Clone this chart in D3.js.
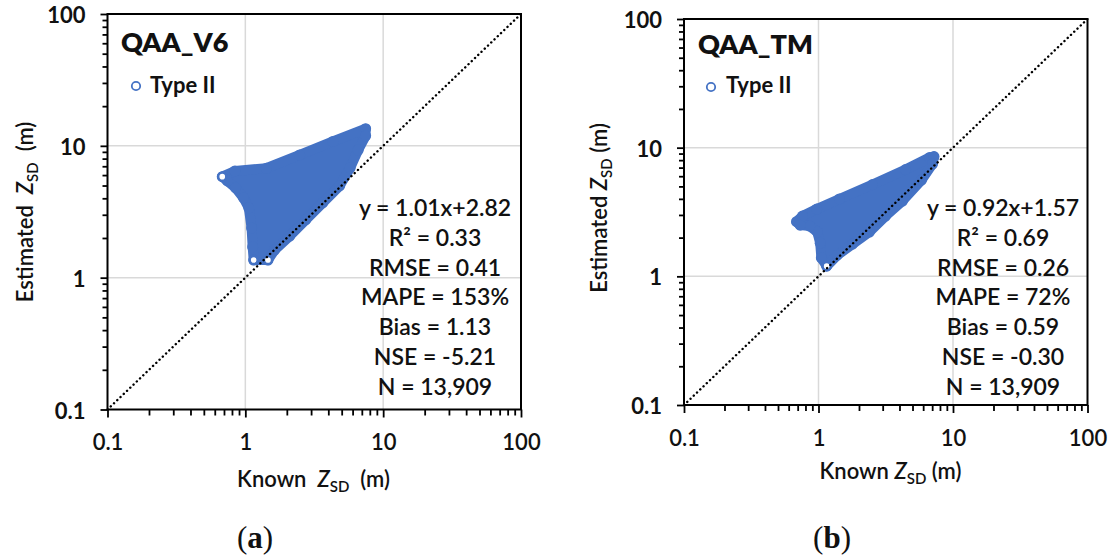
<!DOCTYPE html>
<html><head><meta charset="utf-8">
<script src="https://cdn.jsdelivr.net/npm/d3@7"></script>
<style>
body{margin:0;background:#fff}
svg{display:block}
text{font-family:Lato,'Open Sans',sans-serif;fill:#111;white-space:pre}
</style>
</head><body>
<svg id="chart" width="1113" height="558"></svg>
<script>
// ---------- data ----------
const tickValues = [0.1, 1, 10, 100];
const tickLabels = ["0.1", "1", "10", "100"];
const gridValues = [1, 10];
const panelTitles = ["QAA_V6", "QAA_TM"];
const legendLabel = "Type II";
const panelLetters = ["a", "b"];
const statsA = ["y = 1.01x+2.82", "R² = 0.33", "RMSE = 0.41", "MAPE = 153%", "Bias = 1.13", "NSE = -5.21", "N = 13,909"];
const statsB = ["y = 0.92x+1.57", "R² = 0.69", "RMSE = 0.26", "MAPE = 72%", "Bias = 0.59", "NSE = -0.30", "N = 13,909"];

// outline of the dense point cloud (known, estimated), panel a
const cloudAx = [0.68, 0.84, 1.42, 2.48, 4.32, 7.46, 7.46, 6.59, 5.76, 4.83, 3.64, 2.74, 2.10, 1.63, 1.46, 1.15, 1.13, 1.11, 1.06, 0.97, 0.85, 0.74];
const cloudAy = [5.84, 6.45, 6.76, 8.53, 10.8, 13.5, 11.9, 9.30, 6.80, 4.96, 3.69, 2.74, 2.07, 1.62, 1.36, 1.36, 1.71, 2.38, 3.38, 4.03, 4.80, 5.42];
// isolated points, panel a
const openAx = [0.68, 1.15, 1.46];
const openAy = [5.84, 1.36, 1.36];

// outline of the dense point cloud, panel b
const cloudBx = [0.686, 0.76, 0.97, 1.43, 2.52, 4.44, 6.69, 7.22, 7.04, 5.83, 4.21, 3.15, 2.39, 1.79, 1.38, 1.15, 1.05, 1.03, 0.98, 0.86, 0.73];
const cloudBy = [2.66, 2.94, 3.33, 3.99, 5.17, 6.76, 8.38, 8.53, 7.46, 5.60, 3.85, 2.94, 2.21, 1.78, 1.46, 1.20, 1.39, 1.81, 2.21, 2.46, 2.50];
const openBx = [1.15];
const openBy = [1.20];

// ---------- layout ----------
const BLUE = "#4472C4";
const panels = [
  {plot:{x0:107.5, x1:521, y0:14, y1:409.5}, title:panelTitles[0], stats:statsA,
   cx:cloudAx, cy:cloudAy, ox:openAx, oy:openAy,
   titlePos:[121, 52], legCircle:[136, 86], legText:[150, 93], statsX:435,
   xTitle:{x:313.5, y:487, sep:"  "}, yTitle:{x:33, y:212, sep:"  "}, letter:{x:255, y:548}},
  {plot:{x0:684, x1:1087.5, y0:19, y1:405}, title:panelTitles[1], stats:statsB,
   cx:cloudBx, cy:cloudBy, ox:openBx, oy:openBy,
   titlePos:[698, 54], legCircle:[711, 87], legText:[726, 93], statsX:1003,
   xTitle:{x:890.5, y:479, sep:" "}, yTitle:{x:607, y:208, sep:" "}, letter:{x:832, y:548}}
];

const svg = d3.select("#chart");

panels.forEach((p, i) => {
  const P = p.plot;
  const x = d3.scaleLog().domain([0.1, 100]).range([P.x0, P.x1]);
  const y = d3.scaleLog().domain([0.1, 100]).range([P.y1, P.y0]);
  const g = svg.append("g");

  // grid
  g.selectAll(".gx").data(gridValues).join("line")
    .attr("x1", d => x(d)).attr("x2", d => x(d)).attr("y1", P.y0).attr("y2", P.y1)
    .attr("stroke", "#d9d9d9").attr("stroke-width", 1.5);
  g.selectAll(".gy").data(gridValues).join("line")
    .attr("y1", d => y(d)).attr("y2", d => y(d)).attr("x1", P.x0).attr("x2", P.x1)
    .attr("stroke", "#d9d9d9").attr("stroke-width", 1.5);

  // cloud
  const pts = p.cx.map((v, k) => [v, p.cy[k]]);
  const line = d3.line().x(d => x(d[0])).y(d => y(d[1])).curve(d3.curveLinearClosed);
  g.append("path").attr("d", line(pts))
    .attr("fill", BLUE).attr("stroke", BLUE).attr("stroke-width", 10).attr("stroke-linejoin", "round");
  g.selectAll(".edge").data(pts).join("circle")
    .attr("cx", d => x(d[0])).attr("cy", d => y(d[1])).attr("r", 5.5)
    .attr("fill", BLUE);
  const opts = p.ox.map((v, k) => [v, p.oy[k]]);
  g.selectAll(".open").data(opts).join("circle")
    .attr("cx", d => x(d[0])).attr("cy", d => y(d[1])).attr("r", 4)
    .attr("fill", "#fff").attr("stroke", BLUE).attr("stroke-width", 2.4);

  // 1:1 line
  g.append("line")
    .attr("x1", x(0.1)).attr("y1", y(0.1)).attr("x2", x(100)).attr("y2", y(100))
    .attr("stroke", "#000").attr("stroke-width", 2.4)
    .attr("stroke-dasharray", "0.1,4.4").attr("stroke-linecap", "round");

  // frame
  g.append("rect").attr("x", P.x0).attr("y", P.y0)
    .attr("width", P.x1 - P.x0).attr("height", P.y1 - P.y0)
    .attr("fill", "none").attr("stroke", "#000").attr("stroke-width", 2);

  // axes
  const minor = x.ticks().filter(v => !tickValues.includes(+v.toPrecision(3)));
  const yAxisMinor = d3.axisLeft(y).tickValues(minor).tickSize(5).tickFormat("");
  const yAxisMajor = d3.axisLeft(y).tickValues(tickValues).tickSize(7).tickFormat((d, k) => tickLabels[k]);
  const xAxisMinor = d3.axisBottom(x).tickValues(minor).tickSize(6).tickFormat("");
  const xAxisMajor = d3.axisBottom(x).tickValues(tickValues).tickSize(8).tickFormat((d, k) => tickLabels[k]);

  [yAxisMinor, yAxisMajor].forEach(ax => {
    const a = g.append("g").attr("transform", `translate(${P.x0},0)`).call(ax);
    a.select(".domain").remove();
    a.selectAll("line").attr("stroke", "#000").attr("stroke-width", 1.8);
    a.selectAll("text").attr("x", -22).attr("dy", null).attr("dominant-baseline", "central")
      .style("font-family", "Lato").style("font-size", "22px").style("font-weight", 700).attr("fill", "#111");
  });
  [xAxisMinor, xAxisMajor].forEach(ax => {
    const a = g.append("g").attr("transform", `translate(0,${P.y1})`).call(ax);
    a.select(".domain").remove();
    a.selectAll("line").attr("stroke", "#000").attr("stroke-width", 1.8);
    a.selectAll("text").attr("y", 32).attr("dy", null).attr("dominant-baseline", "central")
      .style("font-family", "Lato").style("font-size", "22px").style("font-weight", 600).attr("fill", "#111");
  });

  // title
  g.append("text").attr("x", p.titlePos[0]).attr("y", p.titlePos[1])
    .style("font-size", "27px").style("font-weight", 800).text(p.title);
  // legend
  g.append("circle").attr("cx", p.legCircle[0]).attr("cy", p.legCircle[1]).attr("r", 4.2)
    .attr("fill", "#fff").attr("stroke", BLUE).attr("stroke-width", 1.8);
  g.append("text").attr("x", p.legText[0]).attr("y", p.legText[1])
    .style("font-size", "22px").style("font-weight", 700).text(legendLabel);

  // stats
  g.selectAll(".stat").data(p.stats).join("text")
    .attr("x", p.statsX).attr("y", (d, k) => 207 + 29.8 * k)
    .attr("text-anchor", "middle").attr("dominant-baseline", "central")
    .style("font-size", "23px").style("font-weight", 600).text(d => d);

  // axis titles
  const xt = g.append("text").attr("x", p.xTitle.x).attr("y", p.xTitle.y).attr("text-anchor", "middle")
    .style("font-size", "22px").style("font-weight", 600);
  xt.append("tspan").text("Known" + p.xTitle.sep);
  xt.append("tspan").style("font-style", "italic").text("Z");
  xt.append("tspan").attr("dy", 5).style("font-size", "15px").text("SD");
  xt.append("tspan").attr("dy", -5).text(p.xTitle.sep + "(m)");

  const yt = g.append("text").attr("transform", `translate(${p.yTitle.x},${p.yTitle.y}) rotate(-90)`)
    .attr("text-anchor", "middle").style("font-size", "22px").style("font-weight", 600);
  yt.append("tspan").text("Estimated" + p.yTitle.sep);
  yt.append("tspan").style("font-style", "italic").text("Z");
  yt.append("tspan").attr("dy", 5).style("font-size", "15px").text("SD");
  yt.append("tspan").attr("dy", -5).text(p.yTitle.sep + "(m)");

  // panel letter
  const lt = g.append("text").attr("x", p.letter.x).attr("y", p.letter.y).attr("text-anchor", "middle")
    .style("font-family", "'Liberation Serif','Times New Roman',serif").style("font-size", "31px");
  lt.append("tspan").text("(");
  lt.append("tspan").style("font-weight", 700).text(panelLetters[i]);
  lt.append("tspan").text(")");
});
</script>
</body></html>
